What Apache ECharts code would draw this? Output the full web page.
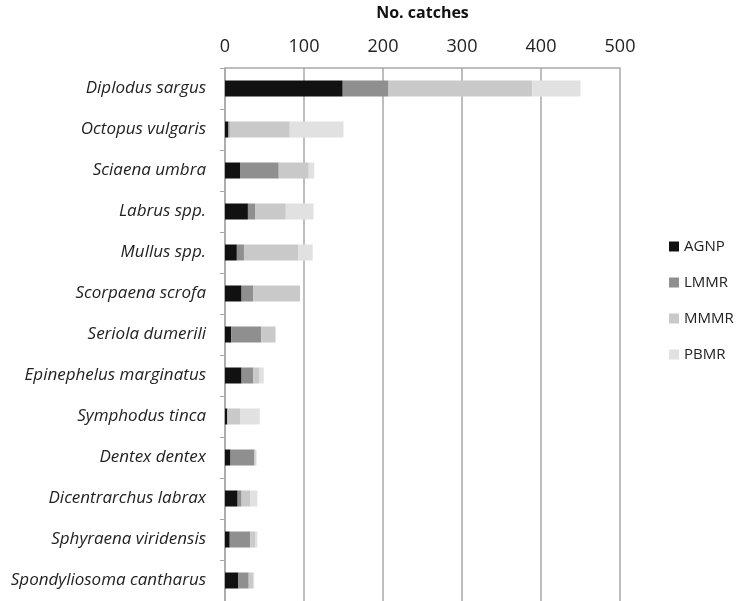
<!DOCTYPE html>
<html>
<head>
<meta charset="utf-8">
<script src="https://cdn.jsdelivr.net/npm/echarts@6/dist/echarts.min.js"></script>
<style>
    html, body { margin: 0; padding: 0; background: #fff; }
    #chart-container { width: 742px; height: 601px; }
</style>
</head>
<body>
<div id="chart-container"></div>
<script>
// 魚種 (由上到下)
const species = [
    'Diplodus sargus', 'Octopus vulgaris', 'Sciaena umbra', 'Labrus spp.',
    'Mullus spp.', 'Scorpaena scrofa', 'Seriola dumerili', 'Epinephelus marginatus',
    'Symphodus tinca', 'Dentex dentex', 'Dicentrarchus labrax',
    'Sphyraena viridensis', 'Spondyliosoma cantharus'
];

// 各區域的捕獲數
const agnp = [149, 4, 19, 29, 15, 21, 8, 21, 3, 7, 16, 6, 17];
const lmmr = [58, 2, 49, 9, 9, 15, 38, 15, 0, 30, 5, 26, 13];
const mmmr = [182, 76, 38, 39, 69, 59, 18, 7, 16, 2, 11, 6, 6];
const pbmr = [61, 68, 7, 35, 18, 0, 0, 6, 25, 1, 9, 3, 1];

const xTicks = [0, 100, 200, 300, 400, 500];

const seriesNames = ['AGNP', 'LMMR', 'MMMR', 'PBMR'];
const seriesData = [agnp, lmmr, mmmr, pbmr];
const seriesColors = ['#111111', '#8f8f8f', '#c9c9c9', '#e1e1e1'];

const chart = echarts.init(document.getElementById('chart-container'));

const option = {
    animation: false,
    textStyle: { fontFamily: 'Open Sans' },
    legend: {
        data: seriesNames,
        orient: 'vertical',
        left: 664,
        top: 234,
        itemWidth: 10,
        itemHeight: 10,
        itemGap: 21,
        icon: 'rect',
        textStyle: { fontSize: 15, color: '#222', fontFamily: 'Open Sans' }
    },
    grid: {
        left: 225,
        width: 395,
        top: 65,
        height: 536
    },
    xAxis: {
        type: 'value',
        position: 'top',
        min: xTicks[0],
        max: xTicks[xTicks.length - 1],
        interval: 100,
        name: 'No. catches',
        nameLocation: 'middle',
        nameGap: 47,
        nameTextStyle: { fontSize: 16, fontWeight: 'bold', color: '#111' },
        axisLine: { show: true, lineStyle: { color: '#a8a8a8', width: 1.5 } },
        axisTick: { show: false },
        axisLabel: { fontSize: 18, color: '#222', margin: 12 },
        splitLine: { show: true, lineStyle: { color: '#a8a8a8', width: 1.5 } }
    },
    yAxis: {
        type: 'category',
        inverse: true,
        data: species,
        axisLine: { show: true, lineStyle: { color: '#a8a8a8', width: 1.5 } },
        axisTick: { show: true, length: 5, lineStyle: { color: '#a8a8a8' } },
        axisLabel: { fontSize: 17, fontStyle: 'italic', color: '#222', margin: 19 }
    },
    series: seriesNames.map((name, i) => ({
        name: name,
        type: 'bar',
        stack: 'Total',
        barWidth: 16,
        itemStyle: { color: seriesColors[i] },
        data: seriesData[i]
    }))
};

chart.setOption(option);
</script>
</body>
</html>
